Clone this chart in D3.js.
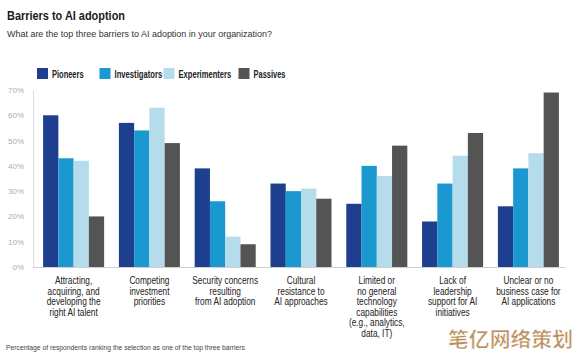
<!DOCTYPE html>
<html><head><meta charset="utf-8">
<script src="https://cdn.jsdelivr.net/npm/d3@7"></script>
<style>
body{margin:0;background:#fff;}
svg{display:block;font-family:"Liberation Sans",Arial,sans-serif;}
</style></head>
<body><svg id="c" width="580" height="360"></svg>
<script>
const categories = [
  ["Attracting,","acquiring, and","developing the","right AI talent"],
  ["Competing","investment","priorities"],
  ["Security concerns","resulting","from AI adoption"],
  ["Cultural","resistance to","AI approaches"],
  ["Limited or","no general","technology","capabilities","(e.g., analytics,","data, IT)"],
  ["Lack of","leadership","support for AI","initiatives"],
  ["Unclear or no","business case for","AI applications"]
];
const seriesNames = ["Pioneers","Investigators","Experimenters","Passives"];
const seriesColors = ["#1d3f8e","#1b98cf","#b5dcea","#545454"];
const pioneers      = [60,57,39,33,25,18,24];
const investigators = [43,54,26,30,40,33,39];
const experimenters = [42,63,12,31,36,44,45];
const passives      = [20,49, 9,27,48,53,69];
const yTicks = [0,10,20,30,40,50,60,70];

const values = [pioneers, investigators, experimenters, passives];
const svg = d3.select("#c");

svg.append("text").attr("x",7).attr("y",19.5).attr("font-size",12.5).attr("font-weight","bold")
  .attr("fill","#1a1a1a").attr("textLength",118).attr("lengthAdjust","spacingAndGlyphs")
  .text("Barriers to AI adoption");
svg.append("text").attr("x",7).attr("y",36.5).attr("font-size",9).attr("fill","#333")
  .attr("textLength",265).attr("lengthAdjust","spacingAndGlyphs")
  .text("What are the top three barriers to AI adoption in your organization?");

const x0 = d3.scaleBand().domain(d3.range(categories.length)).range([34,568]).paddingInner(0.195).paddingOuter(0.12);
const x1 = d3.scaleBand().domain(d3.range(seriesNames.length)).range([0,x0.bandwidth()]);
const y = d3.scaleLinear().domain([0,70]).range([267,90]);

// axes
const yAxis = d3.axisLeft(y).tickValues(yTicks).tickFormat(d=>d+"%").tickSize(0).tickPadding(9);
const ga = svg.append("g").attr("transform","translate(33,0)").call(yAxis);
ga.select(".domain").attr("stroke","#dcdcdc");
ga.selectAll("text").attr("fill","#adadad").attr("font-size",8).attr("font-family","inherit");

svg.append("line").attr("x1",33).attr("x2",565).attr("y1",267.5).attr("y2",267.5).attr("stroke","#d0d0d0");

// bars
const groups = svg.append("g").selectAll("g").data(categories).join("g")
  .attr("transform",(d,i)=>`translate(${x0(i)},0)`);
groups.selectAll("rect").data((d,i)=>values.map((s,k)=>({k,v:s[i]}))).join("rect")
  .attr("x",d=>x1(d.k)).attr("width",x1.bandwidth())
  .attr("y",d=>y(d.v)).attr("height",d=>y(0)-y(d.v))
  .attr("fill",d=>seriesColors[d.k]);

// category labels (condensed look)
groups.each(function(lines,i){
  const t = d3.select(this).append("text").attr("text-anchor","middle")
    .attr("transform",`translate(${x0.bandwidth()/2},0) scale(0.83,1)`)
    .attr("font-size",10).attr("fill","#222");
  lines.forEach((l,j)=>t.append("tspan").attr("x",0).attr("y",284+j*10.6).text(l));
});

// legend
const legX = [37,99.5,163.5,238.5];
const legW = [31.6,47.7,52.7,32];
const lg = svg.append("g").selectAll("g").data(seriesNames).join("g")
  .attr("transform",(d,i)=>`translate(${legX[i]},68)`);
lg.append("rect").attr("width",11).attr("height",11).attr("fill",(d,i)=>seriesColors[i]);
lg.append("text").attr("x",15).attr("y",9.5).attr("font-size",10).attr("font-weight","bold")
  .attr("fill","#222").attr("textLength",(d,i)=>legW[i]).attr("lengthAdjust","spacingAndGlyphs").text(d=>d);

svg.append("text").attr("x",6).attr("y",350).attr("font-size",7.5).attr("fill","#444")
  .attr("textLength",239).attr("lengthAdjust","spacingAndGlyphs")
  .text("Percentage of respondents ranking the selection as one of the top three barriers");

svg.append("text").attr("x",448).attr("y",347).
  attr("font-family","'Noto Sans CJK SC',sans-serif").attr("font-size",20).attr("font-weight","bold")
  .attr("fill","#b98f5e").attr("stroke","#fff").attr("stroke-width",0.5)
  .attr("textLength",125).attr("lengthAdjust","spacingAndGlyphs")
  .text("笔亿网络策划");
</script></body></html>
